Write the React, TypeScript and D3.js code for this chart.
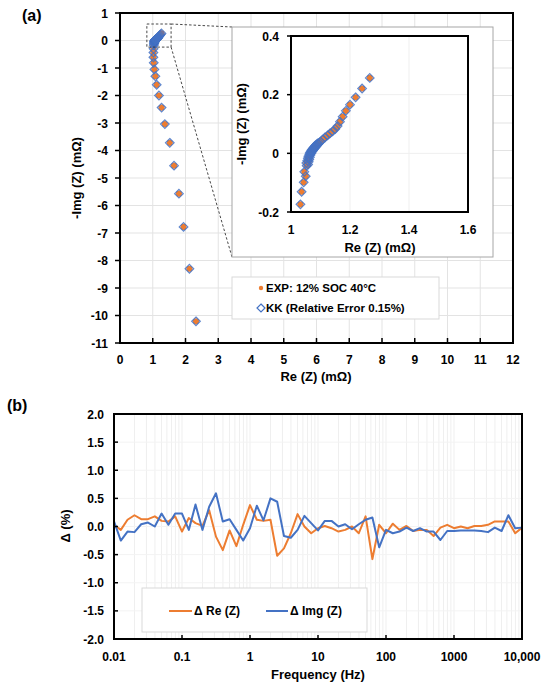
import * as d3 from "d3";

// Nyquist data (mΩ), ordered from 10 kHz (bottom) to 0.01 Hz (top)
const expRe = [
  2.32, 2.12, 1.94, 1.8, 1.65, 1.52, 1.37, 1.27, 1.19, 1.12, 1.08, 1.05, 1.03, 1.02, 1.02, 1.025,
  1.032, 1.036, 1.043, 1.05, 1.045, 1.053,
  1.058, 1.052, 1.06, 1.055, 1.062, 1.057, 1.064, 1.059, 1.066, 1.062, 1.069, 1.064, 1.071, 1.067,
  1.074, 1.07, 1.077, 1.073, 1.08, 1.076, 1.083, 1.079, 1.086, 1.082, 1.089, 1.086, 1.092, 1.09,
  1.096, 1.1, 1.107, 1.115, 1.124, 1.132, 1.141,
  1.15, 1.158, 1.166, 1.175, 1.186, 1.2, 1.219, 1.241, 1.267,
];
const expIm = [
  -10.21, -8.3, -6.78, -5.57, -4.55, -3.72, -3.04, -2.44, -2.0, -1.61, -1.3, -1.05, -0.81, -0.61, -0.44, -0.3,
  -0.174, -0.131, -0.099, -0.078, -0.063, -0.042,
  -0.038, -0.033, -0.029, -0.025, -0.021, -0.017, -0.013, -0.01, -0.006, -0.003, 0.0, 0.002, 0.005, 0.007,
  0.009, 0.011, 0.013, 0.015, 0.017, 0.019, 0.021, 0.022, 0.024, 0.026, 0.028, 0.03, 0.032, 0.034,
  0.036, 0.04, 0.047, 0.054, 0.061, 0.068, 0.075,
  0.083, 0.093, 0.108, 0.125, 0.145, 0.166, 0.191, 0.221, 0.257,
];
// KK fit lies on top of the measurement at this scale
const kkRe = expRe;
const kkIm = expIm;

// residuals (%) vs frequency
const freqHz = [
  0.01, 0.0126, 0.0158, 0.02, 0.0251, 0.0316, 0.0398, 0.0501, 0.0631, 0.0794,
  0.1, 0.126, 0.158, 0.2, 0.251, 0.316, 0.398, 0.501, 0.631, 0.794,
  1, 1.26, 1.58, 2, 2.51, 3.16, 3.98, 5.01, 6.31, 7.94,
  10, 12.6, 15.8, 20, 25.1, 31.6, 39.8, 50.1, 63.1, 79.4,
  100, 126, 158, 200, 251, 316, 398, 501, 631, 794,
  1000, 1259, 1585, 1995, 2512, 3162, 3981, 5012, 6310, 7943,
  10000,
];
const deltaRe = [
  0.03, -0.06, 0.12, 0.2, 0.13, 0.13, 0.18, 0.1, 0.09, 0.18,
  -0.09, 0.15, 0.06, 0.01, 0.29, -0.18, -0.42, -0.07, -0.35, 0.03,
  0.38, 0.12, 0.1, 0.12, -0.52, -0.39, -0.12, 0.22, 0.0, -0.12,
  -0.03, 0.01, -0.03, -0.09, -0.06, 0.0, -0.12, 0.18, -0.58, 0.03,
  -0.12, 0.05, -0.06, 0.01, -0.08, -0.06, -0.06, -0.17, -0.02, 0.03,
  -0.03, 0.0, -0.03, 0.01, 0.01, 0.03, 0.09, 0.09, 0.09, -0.12,
  -0.02,
];
const deltaIm = [
  0.09, -0.25, -0.09, -0.1, 0.04, 0.07, 0.0, 0.23, 0.03, 0.23,
  0.23, -0.06, 0.39, -0.06, 0.35, 0.59, 0.09, 0.13, -0.06, -0.25,
  -0.03, 0.37, 0.11, 0.5, 0.44, -0.17, -0.2, -0.06, 0.19, 0.06,
  -0.07, 0.1, 0.1, 0.0, 0.04, -0.05, 0.04, 0.12, 0.16, -0.37,
  -0.06, -0.12, -0.09, -0.02, -0.08, -0.03, -0.09, -0.09, -0.24, -0.08,
  -0.08, -0.07, -0.07, -0.07, -0.08, -0.1, -0.02, -0.08, 0.2, -0.03,
  -0.02,
];

const mainXTicks = d3.range(0, 13);
const mainYTicks = d3.range(-11, 2);
const insetXTicks = [1, 1.2, 1.4, 1.6];
const insetYTicks = [-0.2, 0, 0.2, 0.4];
const freqTicks = [0.01, 0.1, 1, 10, 100, 1000, 10000];
const freqTickLabels = ["0.01", "0.1", "1", "10", "100", "1000", "10,000"];
const deltaTicks = [-2, -1.5, -1, -0.5, 0, 0.5, 1, 1.5, 2];

const ORANGE = "#ED7D31";
const BLUE = "#4472C4";
const GRID = "#e3e3e3";
const FONT = "'Liberation Sans', Arial, sans-serif";

const diamond = (r: number) => `M0,${-r}L${r},0L0,${r}L${-r},0Z`;

function Markers({ xs, ys, sx, sy }: { xs: number[]; ys: number[]; sx: any; sy: any }) {
  return (
    <g>
      {xs.map((x, i) => (
        <circle key={"e" + i} cx={sx(x)} cy={sy(ys[i])} r={3.1} fill={ORANGE} />
      ))}
      {kkRe.map((x, i) => (
        <path
          key={"k" + i}
          d={diamond(4.3)}
          transform={`translate(${sx(x)},${sy(kkIm[i])})`}
          fill="none"
          stroke={BLUE}
          strokeWidth={1.2}
          strokeOpacity={0.85}
        />
      ))}
    </g>
  );
}

export default function App() {
  const mx = d3.scaleLinear().domain([0, 12]).range([120, 513]);
  const my = d3.scaleLinear().domain([-11, 1]).range([343, 13]);
  const ix = d3.scaleLinear().domain([1, 1.6]).range([291, 468]);
  const iy = d3.scaleLinear().domain([-0.2, 0.4]).range([212, 36]);
  const fx = d3.scaleLog().domain([0.01, 10000]).range([114, 522]);
  const dy = d3.scaleLinear().domain([-2, 2]).range([639, 414]);

  const deltaLine = d3
    .line<number>()
    .x((_, i) => fx(freqHz[i]))
    .y((d) => dy(d));

  const txt = { fontFamily: FONT, fontWeight: 700, fill: "#000" } as const;

  // zoom window drawn on the main plot
  const zx0 = mx(0.82), zx1 = mx(1.56), zy0 = my(0.6), zy1 = my(-0.24);

  return (
    <svg width={550} height={689} style={{ position: "absolute", left: 0, top: 0, background: "#fff" }}>
      {/* ---------- panel (a) ---------- */}
      <text x={22} y={21} fontSize={16} {...txt}>(a)</text>
      <g>
        {mainXTicks.slice(1, -1).map((t) => (
          <line key={"gx" + t} x1={mx(t)} x2={mx(t)} y1={13} y2={343} stroke={GRID} />
        ))}
        {mainYTicks.slice(1, -1).map((t) => (
          <line key={"gy" + t} x1={120} x2={513} y1={my(t)} y2={my(t)} stroke={GRID} />
        ))}
      </g>
      <Markers xs={expRe} ys={expIm} sx={mx} sy={my} />
      <rect x={zx0} y={zy0} width={zx1 - zx0} height={zy1 - zy0} fill="none" stroke="#333" strokeWidth={0.9} strokeDasharray="2.5,2" />
      <line x1={zx1} y1={zy0} x2={232} y2={27} stroke="#333" strokeWidth={0.9} strokeDasharray="2.5,2" />
      <line x1={zx1} y1={zy1} x2={232} y2={257} stroke="#333" strokeWidth={0.9} strokeDasharray="2.5,2" />
      <rect x={120} y={13} width={393} height={330} fill="none" stroke="#000" strokeWidth={2} />
      {mainYTicks.map((t) => (
        <g key={"yt" + t}>
          <line x1={115} x2={120} y1={my(t)} y2={my(t)} stroke="#000" strokeWidth={1.5} />
          <text x={108} y={my(t) + 4.5} fontSize={12} textAnchor="end" {...txt}>{t}</text>
        </g>
      ))}
      {mainXTicks.map((t) => (
        <g key={"xt" + t}>
          <line x1={mx(t)} x2={mx(t)} y1={343} y2={338} stroke="#000" strokeWidth={1.5} />
          <text x={mx(t)} y={364} fontSize={12} textAnchor="middle" {...txt}>{t}</text>
        </g>
      ))}
      <text x={316} y={381} fontSize={13} textAnchor="middle" {...txt}>Re (Z) (mΩ)</text>
      <text transform="translate(81,178) rotate(-90)" fontSize={13} textAnchor="middle" {...txt}>-Img (Z) (mΩ)</text>

      {/* inset */}
      <rect x={232} y={27} width={261} height={230} fill="#fff" stroke="#a6a6a6" strokeWidth={1} />
      <defs>
        <clipPath id="insetClip">
          <rect x={291} y={36} width={177} height={176} />
        </clipPath>
      </defs>
      {[1.2, 1.4].map((t) => (
        <line key={"igx" + t} x1={ix(t)} x2={ix(t)} y1={36} y2={212} stroke="#efefef" />
      ))}
      {[0, 0.2].map((t) => (
        <line key={"igy" + t} x1={291} x2={468} y1={iy(t)} y2={iy(t)} stroke="#efefef" />
      ))}
      <g clipPath="url(#insetClip)">
        <Markers xs={expRe} ys={expIm} sx={ix} sy={iy} />
      </g>
      <rect x={291} y={36} width={177} height={176} fill="none" stroke="#000" strokeWidth={2} />
      {insetYTicks.map((t) => (
        <g key={"iyt" + t}>
          <line x1={287} x2={291} y1={iy(t)} y2={iy(t)} stroke="#000" strokeWidth={1.5} />
          <text x={279} y={iy(t) + 4.5} fontSize={12} textAnchor="end" {...txt}>{t}</text>
        </g>
      ))}
      {insetXTicks.map((t) => (
        <text key={"ixt" + t} x={ix(t)} y={234} fontSize={12} textAnchor="middle" {...txt}>{t}</text>
      ))}
      <text x={380} y={252} fontSize={13} textAnchor="middle" {...txt}>Re (Z) (mΩ)</text>
      <text transform="translate(246,124) rotate(-90)" fontSize={13} textAnchor="middle" {...txt}>-Img (Z) (mΩ)</text>

      {/* legend (a) */}
      <rect x={232} y={277} width={207} height={42} fill="#fff" stroke="#d9d9d9" />
      <circle cx={261} cy={288} r={2.2} fill={ORANGE} />
      <text x={266} y={292} fontSize={11.5} {...txt}>EXP: 12% SOC 40°C</text>
      <path d={diamond(4)} transform="translate(261,308)" fill="none" stroke={BLUE} strokeWidth={1.2} />
      <text x={266} y={312} fontSize={11.5} {...txt}>KK (Relative Error 0.15%)</text>

      {/* ---------- panel (b) ---------- */}
      <text x={7} y={411} fontSize={16} {...txt}>(b)</text>
      {fx.ticks().map((t, i) => (
        <line key={"fg" + i} x1={fx(t)} x2={fx(t)} y1={414} y2={639} stroke="#efefef" />
      ))}
      {deltaTicks.slice(1, -1).map((t) => (
        <line key={"dg" + t} x1={114} x2={522} y1={dy(t)} y2={dy(t)} stroke="#f3f3f3" />
      ))}
      <path d={deltaLine(deltaRe) ?? ""} fill="none" stroke={ORANGE} strokeWidth={2} strokeLinejoin="round" />
      <path d={deltaLine(deltaIm) ?? ""} fill="none" stroke={BLUE} strokeWidth={2} strokeLinejoin="round" />
      <rect x={114} y={414} width={408} height={225} fill="none" stroke="#000" strokeWidth={2} />
      {deltaTicks.map((t) => (
        <g key={"dt" + t}>
          <line x1={114} x2={118} y1={dy(t)} y2={dy(t)} stroke="#000" strokeWidth={1.5} />
          <text x={104} y={dy(t) + 4.5} fontSize={12} textAnchor="end" {...txt}>{t.toFixed(1)}</text>
        </g>
      ))}
      {freqTicks.map((t, i) => (
        <g key={"ft" + t}>
          <line x1={fx(t)} x2={fx(t)} y1={639} y2={635} stroke="#000" strokeWidth={1.5} />
          <text x={fx(t)} y={661} fontSize={12} textAnchor="middle" {...txt}>{freqTickLabels[i]}</text>
        </g>
      ))}
      <text x={318} y={679} fontSize={13} textAnchor="middle" {...txt}>Frequency (Hz)</text>
      <text transform="translate(70,526) rotate(-90)" fontSize={13} textAnchor="middle" {...txt}>Δ (%)</text>

      {/* legend (b) */}
      <rect x={142} y={588} width={225} height={44} fill="#fff" stroke="#d9d9d9" />
      <line x1={169} x2={192} y1={611} y2={611} stroke={ORANGE} strokeWidth={2} />
      <text x={194} y={615} fontSize={12} {...txt}>Δ Re (Z)</text>
      <line x1={266} x2={288} y1={611} y2={611} stroke={BLUE} strokeWidth={2} />
      <text x={290} y={615} fontSize={12} {...txt}>Δ Img (Z)</text>
    </svg>
  );
}
